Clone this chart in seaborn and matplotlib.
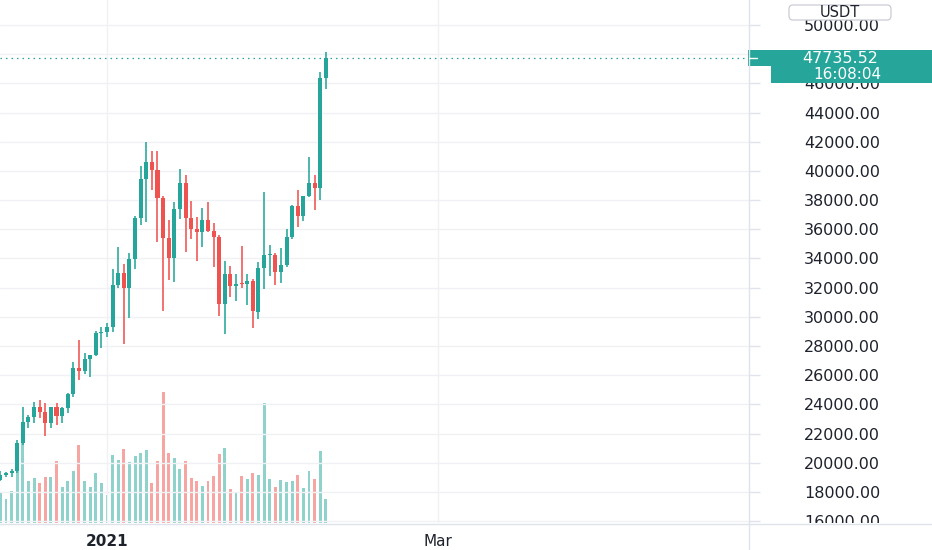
import numpy as np
import pandas as pd
import matplotlib
matplotlib.use("Agg")
import matplotlib.pyplot as plt
import seaborn as sns
from matplotlib.patches import Rectangle, FancyBboxPatch

# ---------------- data (BTC/USDT daily) ----------------
dates = pd.date_range("2020-12-13", "2021-02-09", freq="D")
opens = [18808, 19174, 19273, 19426, 21335, 22797, 23107, 23821, 23455, 22719,
         23810, 23232, 23729, 24712, 26493, 26281, 27079, 27385, 28875,
         28923, 29331, 32176, 33000, 31989, 33950, 36769, 39432, 40586, 40088,
         38150, 35410, 34049, 37371, 39145, 36738, 35995, 35824, 36622, 35901,
         35468, 30851, 32950, 32078, 32260, 32254, 32464, 30362, 33368, 34246,
         34262, 33092, 33518, 35467, 37619, 36936, 38289, 39182, 38795, 46374]
highs = [19411, 19349, 19570, 21560, 23800, 23285, 24171, 24295, 24102, 23789,
         24100, 23794, 24789, 26867, 28422, 27500, 27410, 28996, 29300,
         29600, 33300, 34778, 33600, 34360, 36939, 40365, 41950, 41380, 41350,
         38264, 36628, 37850, 40100, 39747, 37950, 36852, 37469, 37850, 36415,
         35600, 33826, 33456, 32944, 34875, 32921, 32557, 33783, 38531, 34933,
         34342, 34717, 35984, 37662, 38708, 38310, 40955, 39700, 46794, 48150]
lows = [18711, 19000, 19050, 19278, 21230, 22350, 22750, 23060, 21815, 22353,
        22600, 22703, 23433, 24500, 25700, 26101, 25880, 27320, 27850,
        28624, 28946, 31963, 28130, 29900, 33288, 36300, 36500, 38720, 35111,
        30420, 32531, 32380, 36701, 34408, 35357, 33850, 34800, 35844, 33400,
        30071, 28850, 31390, 31106, 32000, 30837, 29241, 29842, 31915, 32825,
        32171, 32296, 33418, 35363, 36161, 36570, 38215, 37351, 37988, 45600]
closes = [19174, 19273, 19426, 21335, 22797, 23107, 23821, 23455, 22719, 23810,
          23232, 23729, 24712, 26493, 26281, 27079, 27385, 28875, 28923,
          29331, 32178, 33000, 31988, 33949, 36769, 39432, 40582, 40088, 38150,
          35404, 34051, 37371, 39144, 36742, 35994, 35828, 36631, 35891, 35468,
          30850, 32945, 32078, 32260, 32254, 32467, 30366, 33364, 34252, 34262,
          33092, 33526, 35466, 37618, 36936, 38290, 39186, 38795, 46374, 47735.52]
volumes = [46.5, 36, 48.5, 85, 125, 63.5, 67, 60, 68.5, 68.5,
           93.5, 54.5, 62.5, 77.5, 117, 63.5, 54.5, 74.5, 60,
           42.5, 102, 94.5, 111, 92, 100.5, 104.5, 109.5, 60, 93.5,
           196, 105, 97.5, 81, 92.5, 67.5, 62.5, 56, 62.5, 70,
           103.5, 112.5, 51, 46, 70, 66, 75, 72.5, 180, 66,
           53.5, 64.5, 62, 63.5, 72.5, 52.5, 77.5, 66, 108.5, 36]
price_ticks = list(range(16000, 50001, 2000))
hidden_price_ticks = [48000]          # covered by the last-price label
x_labels = ["2021", "Mar"]
x_label_dates = ["2021-01-01", "2021-03-01"]
quote_currency = "USDT"
countdown = "16:08:04"

UP = "#26a69a"
DOWN = "#ef5350"
UP_VOL = "#8fd1cb"
DOWN_VOL = "#f7a5a3"
GRID = "#f0f1f4"
TXT = "#1e222d"
BORDER = "#e0e3eb"

origin = pd.Timestamp("2021-01-01")
df = pd.DataFrame({"date": dates, "open": opens, "high": highs,
                   "low": lows, "close": closes, "volume": volumes})
df["d"] = (df["date"] - origin).dt.days
df["dir"] = np.where(df["close"] >= df["open"], "up", "down")

sns.set_theme(style="white")
plt.rcParams["font.family"] = ["DejaVu Sans"]

W, H = 932, 550
fig = plt.figure(figsize=(W / 100, H / 100), dpi=100)
fig.patch.set_facecolor("white")

plot_right = 749
plot_bottom = 523
rect = [0, (H - plot_bottom) / H, plot_right / W, plot_bottom / H]

px_per_day = 5.61
x0_px = 107
xlim = (-x0_px / px_per_day, (plot_right - x0_px) / px_per_day)
ylim = (15866, 51712)

# volume layer (below)
axv = fig.add_axes(rect, zorder=0)
axv.set_facecolor("white")
sns.barplot(data=df, x="d", y="volume", hue="dir",
            palette={"up": UP_VOL, "down": DOWN_VOL},
            native_scale=True, dodge=False, width=0.52, saturation=1,
            errorbar=None, legend=False, ax=axv, linewidth=0)
axv.set_xlim(*xlim)
axv.set_ylim(0, 784.5)
axv.set_axis_off()

# price layer
ax = fig.add_axes(rect, zorder=1)
ax.patch.set_visible(False)
ax.set_xlim(*xlim)
ax.set_ylim(*ylim)

ax.set_yticks(price_ticks)
ax.set_yticklabels(["" if v in hidden_price_ticks else f"{v:.2f}" for v in price_ticks])
ax.yaxis.tick_right()
ax.tick_params(axis="y", length=8, width=1, color=BORDER, pad=59,
               labelsize=11.5, labelcolor=TXT)
for lbl in ax.get_yticklabels():
    lbl.set_horizontalalignment("center")

xt = [(pd.Timestamp(s) - origin).days for s in x_label_dates]
ax.set_xticks(xt)
ax.set_xticklabels(x_labels)
ax.tick_params(axis="x", length=3, width=1, color=BORDER, pad=5,
               labelsize=11, labelcolor=TXT)
ax.get_xticklabels()[0].set_fontweight("bold")
ax.grid(True, color=GRID, lw=1.0, zorder=0)
for s in ax.spines.values():
    s.set_visible(False)

colors = np.where(df["dir"] == "up", UP, DOWN)
ax.vlines(df["d"], df["low"], df["high"], colors=colors, lw=1.15, zorder=3)
body_lo = np.minimum(df["open"], df["close"])
body_h = np.maximum(np.abs(df["close"] - df["open"]), 75)
ax.bar(df["d"], body_h, bottom=body_lo, width=0.72, color=colors,
       linewidth=0, zorder=4)

last = closes[-1]
ax.axhline(last, color=UP, lw=0.9, ls=(0, (1.2, 3.2)), zorder=2)

# overlay in pixel coordinates (top-left origin), drawn above everything
fig.canvas.draw()
y_last = H - ax.transData.transform((0, last))[1]

ov = fig.add_axes([0, 0, 1, 1], zorder=5)
ov.set_xlim(0, W)
ov.set_ylim(H, 0)
ov.set_axis_off()
ov.patch.set_visible(False)

# blank price-scale strip under the time axis (clips the lowest label)
ov.add_patch(Rectangle((plot_right, plot_bottom), W - plot_right, H - plot_bottom,
                       facecolor="white", lw=0))
# frame lines
ov.plot([plot_right, plot_right], [0, H], color=BORDER, lw=1.0)
ov.plot([0, W], [plot_bottom + 0.5, plot_bottom + 0.5], color=BORDER, lw=1.0)

# last price label
ov.add_patch(Rectangle((748, y_last - 8), W - 748, 16, facecolor=UP, lw=0))
ov.plot([749, 757], [y_last, y_last], color="white", lw=1.0)
ov.text(840, y_last, f"{last:.2f}", color="white", fontsize=11.5,
        ha="center", va="center")
# countdown label
ov.add_patch(Rectangle((771, y_last + 8.3), W - 771, 16.5, facecolor=UP, lw=0))
ov.text(847, y_last + 16.5, countdown, color="white", fontsize=11,
        ha="center", va="center")

# currency box
ov.add_patch(FancyBboxPatch((789, 5), 102, 15,
                            boxstyle="round,pad=0,rounding_size=4",
                            facecolor="white", edgecolor="#c9ccd4", lw=0.9))
ov.text(840, 12.5, quote_currency, color=TXT, fontsize=10.5,
        ha="center", va="center")

fig.savefig("out.png", dpi=100, facecolor="white")
